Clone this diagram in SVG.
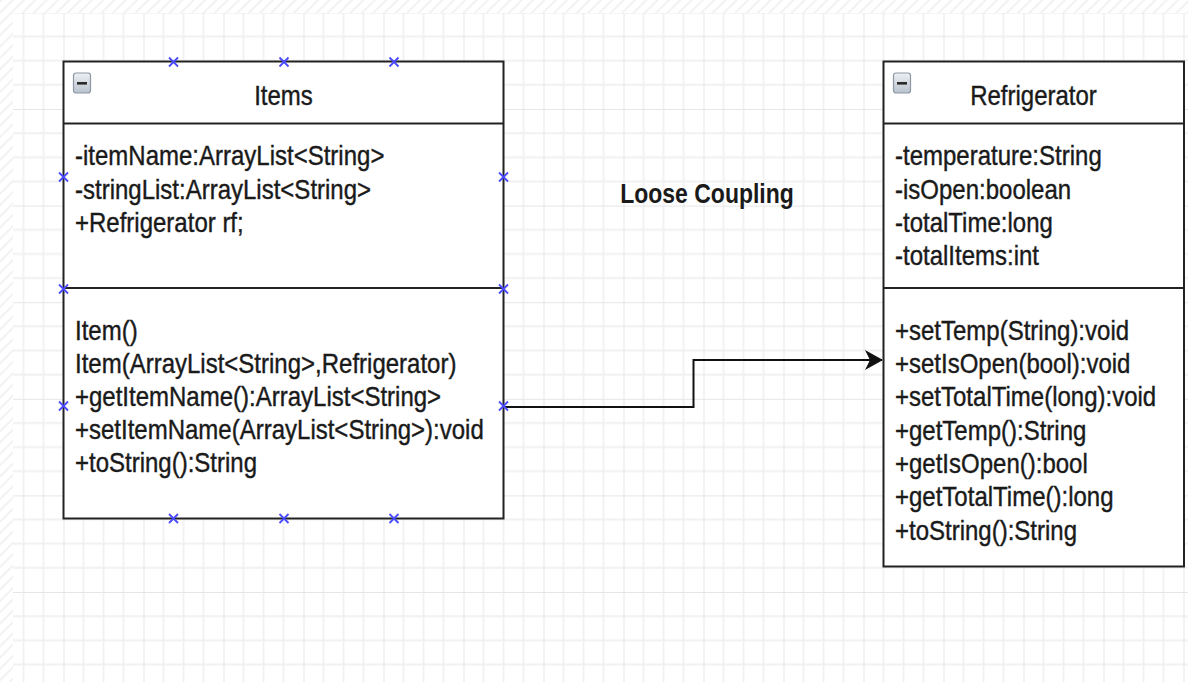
<svg xmlns="http://www.w3.org/2000/svg" width="1188" height="682" viewBox="0 0 1188 682">
  <defs>
    <style>
      .box { fill: #ffffff; stroke: #222222; stroke-width: 2; }
      .sep { stroke: #222222; stroke-width: 2; }
      .t { font-family: "Liberation Sans", Arial, sans-serif; font-size: 24px; fill: #1a1a1a; stroke: #1a1a1a; stroke-width: 0.35; }
      .title { font-family: "Liberation Sans", Arial, sans-serif; font-size: 24px; fill: #1a1a1a; stroke: #1a1a1a; stroke-width: 0.35; text-anchor: middle; }
      .label { font-family: "Liberation Sans", Arial, sans-serif; font-size: 23px; font-weight: bold; fill: #1a1a1a; text-anchor: middle; }
      .edge { fill: none; stroke: #111111; stroke-width: 2; }
      .mk { stroke: #4a4aff; stroke-width: 1.8; fill: none; }
    </style>
    <!-- page grid: minor lines every 20 x 24.15, major every 80 x 96.6 -->
    <pattern id="grid" patternUnits="userSpaceOnUse" x="-16.5" y="12.4" width="80" height="96.6">
      <rect width="80" height="96.6" fill="#ffffff"/>
      <g stroke="#f1f1f1" stroke-width="1.8">
        <line x1="20" y1="0" x2="20" y2="96.6"/>
        <line x1="40" y1="0" x2="40" y2="96.6"/>
        <line x1="60" y1="0" x2="60" y2="96.6"/>
        <line x1="0" y1="24.15" x2="80" y2="24.15"/>
        <line x1="0" y1="48.3" x2="80" y2="48.3"/>
        <line x1="0" y1="72.45" x2="80" y2="72.45"/>
      </g>
      <g stroke="#e6e6e6" stroke-width="2">
        <line x1="0" y1="0" x2="0" y2="96.6"/>
        <line x1="0" y1="0" x2="80" y2="0"/>
      </g>
    </pattern>
    <pattern id="hatch" patternUnits="userSpaceOnUse" width="8" height="8" patternTransform="rotate(45)">
      <rect width="8" height="8" fill="#ffffff"/>
      <line x1="0" y1="0" x2="0" y2="8" stroke="#f2f2f2" stroke-width="4"/>
    </pattern>
    <linearGradient id="btn" x1="0" y1="0" x2="0" y2="1">
      <stop offset="0" stop-color="#eef1f5"/>
      <stop offset="1" stop-color="#b9c2ce"/>
    </linearGradient>
    <marker id="arrow" viewBox="0 0 18 20" refX="17" refY="10" markerWidth="18" markerHeight="20" markerUnits="userSpaceOnUse" orient="auto">
      <path d="M0,0 L18,10 L0,20 L5,10 Z" fill="#111111"/>
    </marker>
    <path id="x" class="mk" d="M-4.5,-4.5 L4.5,4.5 M-4.5,4.5 L4.5,-4.5"/>
    <g id="collapse">
      <rect x="0" y="0" width="17" height="20" rx="2.5" fill="url(#btn)" stroke="#8d97a5" stroke-width="1.2"/>
      <rect x="3.5" y="9" width="10" height="2.6" fill="#2a2a2a"/>
    </g>
  </defs>

  <!-- background -->
  <rect x="0" y="0" width="1188" height="682" fill="url(#hatch)"/>
  <rect x="13" y="13" width="1175" height="669" fill="url(#grid)"/>

  <!-- connectors -->
  <g id="connectors">
    <path class="edge" d="M503.5,407 H693.5 V360 H882" marker-end="url(#arrow)"/>
  </g>

  <g id="label-coupling">
    <text class="label" transform="translate(707 203) scale(1 1.2)">Loose Coupling</text>
  </g>

  <!-- class: Items -->
  <g id="items">
    <rect class="box" x="63.5" y="61.5" width="440" height="457"/>
    <line class="sep" x1="63.5" y1="123.5" x2="503.5" y2="123.5"/>
    <line class="sep" x1="63.5" y1="288" x2="503.5" y2="288"/>
    <use href="#collapse" x="73.5" y="73"/>
    <text class="title" transform="translate(283.5 105) scale(1 1.15)">Items</text>
    <text class="t" transform="translate(75 165) scale(1 1.15)">-itemName:ArrayList&lt;String&gt;</text>
    <text class="t" transform="translate(75 198.5) scale(1 1.15)">-stringList:ArrayList&lt;String&gt;</text>
    <text class="t" transform="translate(75 232) scale(1 1.15)">+Refrigerator rf;</text>
    <text class="t" transform="translate(75 340) scale(1 1.15)">Item()</text>
    <text class="t" transform="translate(75 373) scale(1 1.15)">Item(ArrayList&lt;String&gt;,Refrigerator)</text>
    <text class="t" transform="translate(75 406) scale(1 1.15)">+getItemName():ArrayList&lt;String&gt;</text>
    <text class="t" transform="translate(75 439) scale(1 1.15)">+setItemName(ArrayList&lt;String&gt;):void</text>
    <text class="t" transform="translate(75 472) scale(1 1.15)">+toString():String</text>
    <!-- connection points -->
    <use href="#x" x="173.5" y="62"/>
    <use href="#x" x="284" y="62"/>
    <use href="#x" x="394" y="62"/>
    <use href="#x" x="63.5" y="177"/>
    <use href="#x" x="503.5" y="177"/>
    <use href="#x" x="63.5" y="289"/>
    <use href="#x" x="503.5" y="289"/>
    <use href="#x" x="63.5" y="406"/>
    <use href="#x" x="503.5" y="406"/>
    <use href="#x" x="173.5" y="518.5"/>
    <use href="#x" x="284" y="518.5"/>
    <use href="#x" x="394" y="518.5"/>
  </g>

  <!-- class: Refrigerator -->
  <g id="refrigerator">
    <rect class="box" x="883.5" y="61.5" width="300.5" height="505"/>
    <line class="sep" x1="883.5" y1="123.5" x2="1184" y2="123.5"/>
    <line class="sep" x1="883.5" y1="288" x2="1184" y2="288"/>
    <use href="#collapse" x="893.5" y="73"/>
    <text class="title" transform="translate(1033.5 105) scale(1 1.15)">Refrigerator</text>
    <text class="t" transform="translate(895 165) scale(1 1.15)">-temperature:String</text>
    <text class="t" transform="translate(895 198.5) scale(1 1.15)">-isOpen:boolean</text>
    <text class="t" transform="translate(895 232) scale(1 1.15)">-totalTime:long</text>
    <text class="t" transform="translate(895 265) scale(1 1.15)">-totalItems:int</text>
    <text class="t" transform="translate(895 339.5) scale(1 1.15)">+setTemp(String):void</text>
    <text class="t" transform="translate(895 372.8) scale(1 1.15)">+setIsOpen(bool):void</text>
    <text class="t" transform="translate(895 406.2) scale(1 1.15)">+setTotalTime(long):void</text>
    <text class="t" transform="translate(895 439.5) scale(1 1.15)">+getTemp():String</text>
    <text class="t" transform="translate(895 472.8) scale(1 1.15)">+getIsOpen():bool</text>
    <text class="t" transform="translate(895 506.2) scale(1 1.15)">+getTotalTime():long</text>
    <text class="t" transform="translate(895 539.5) scale(1 1.15)">+toString():String</text>
  </g>
</svg>
